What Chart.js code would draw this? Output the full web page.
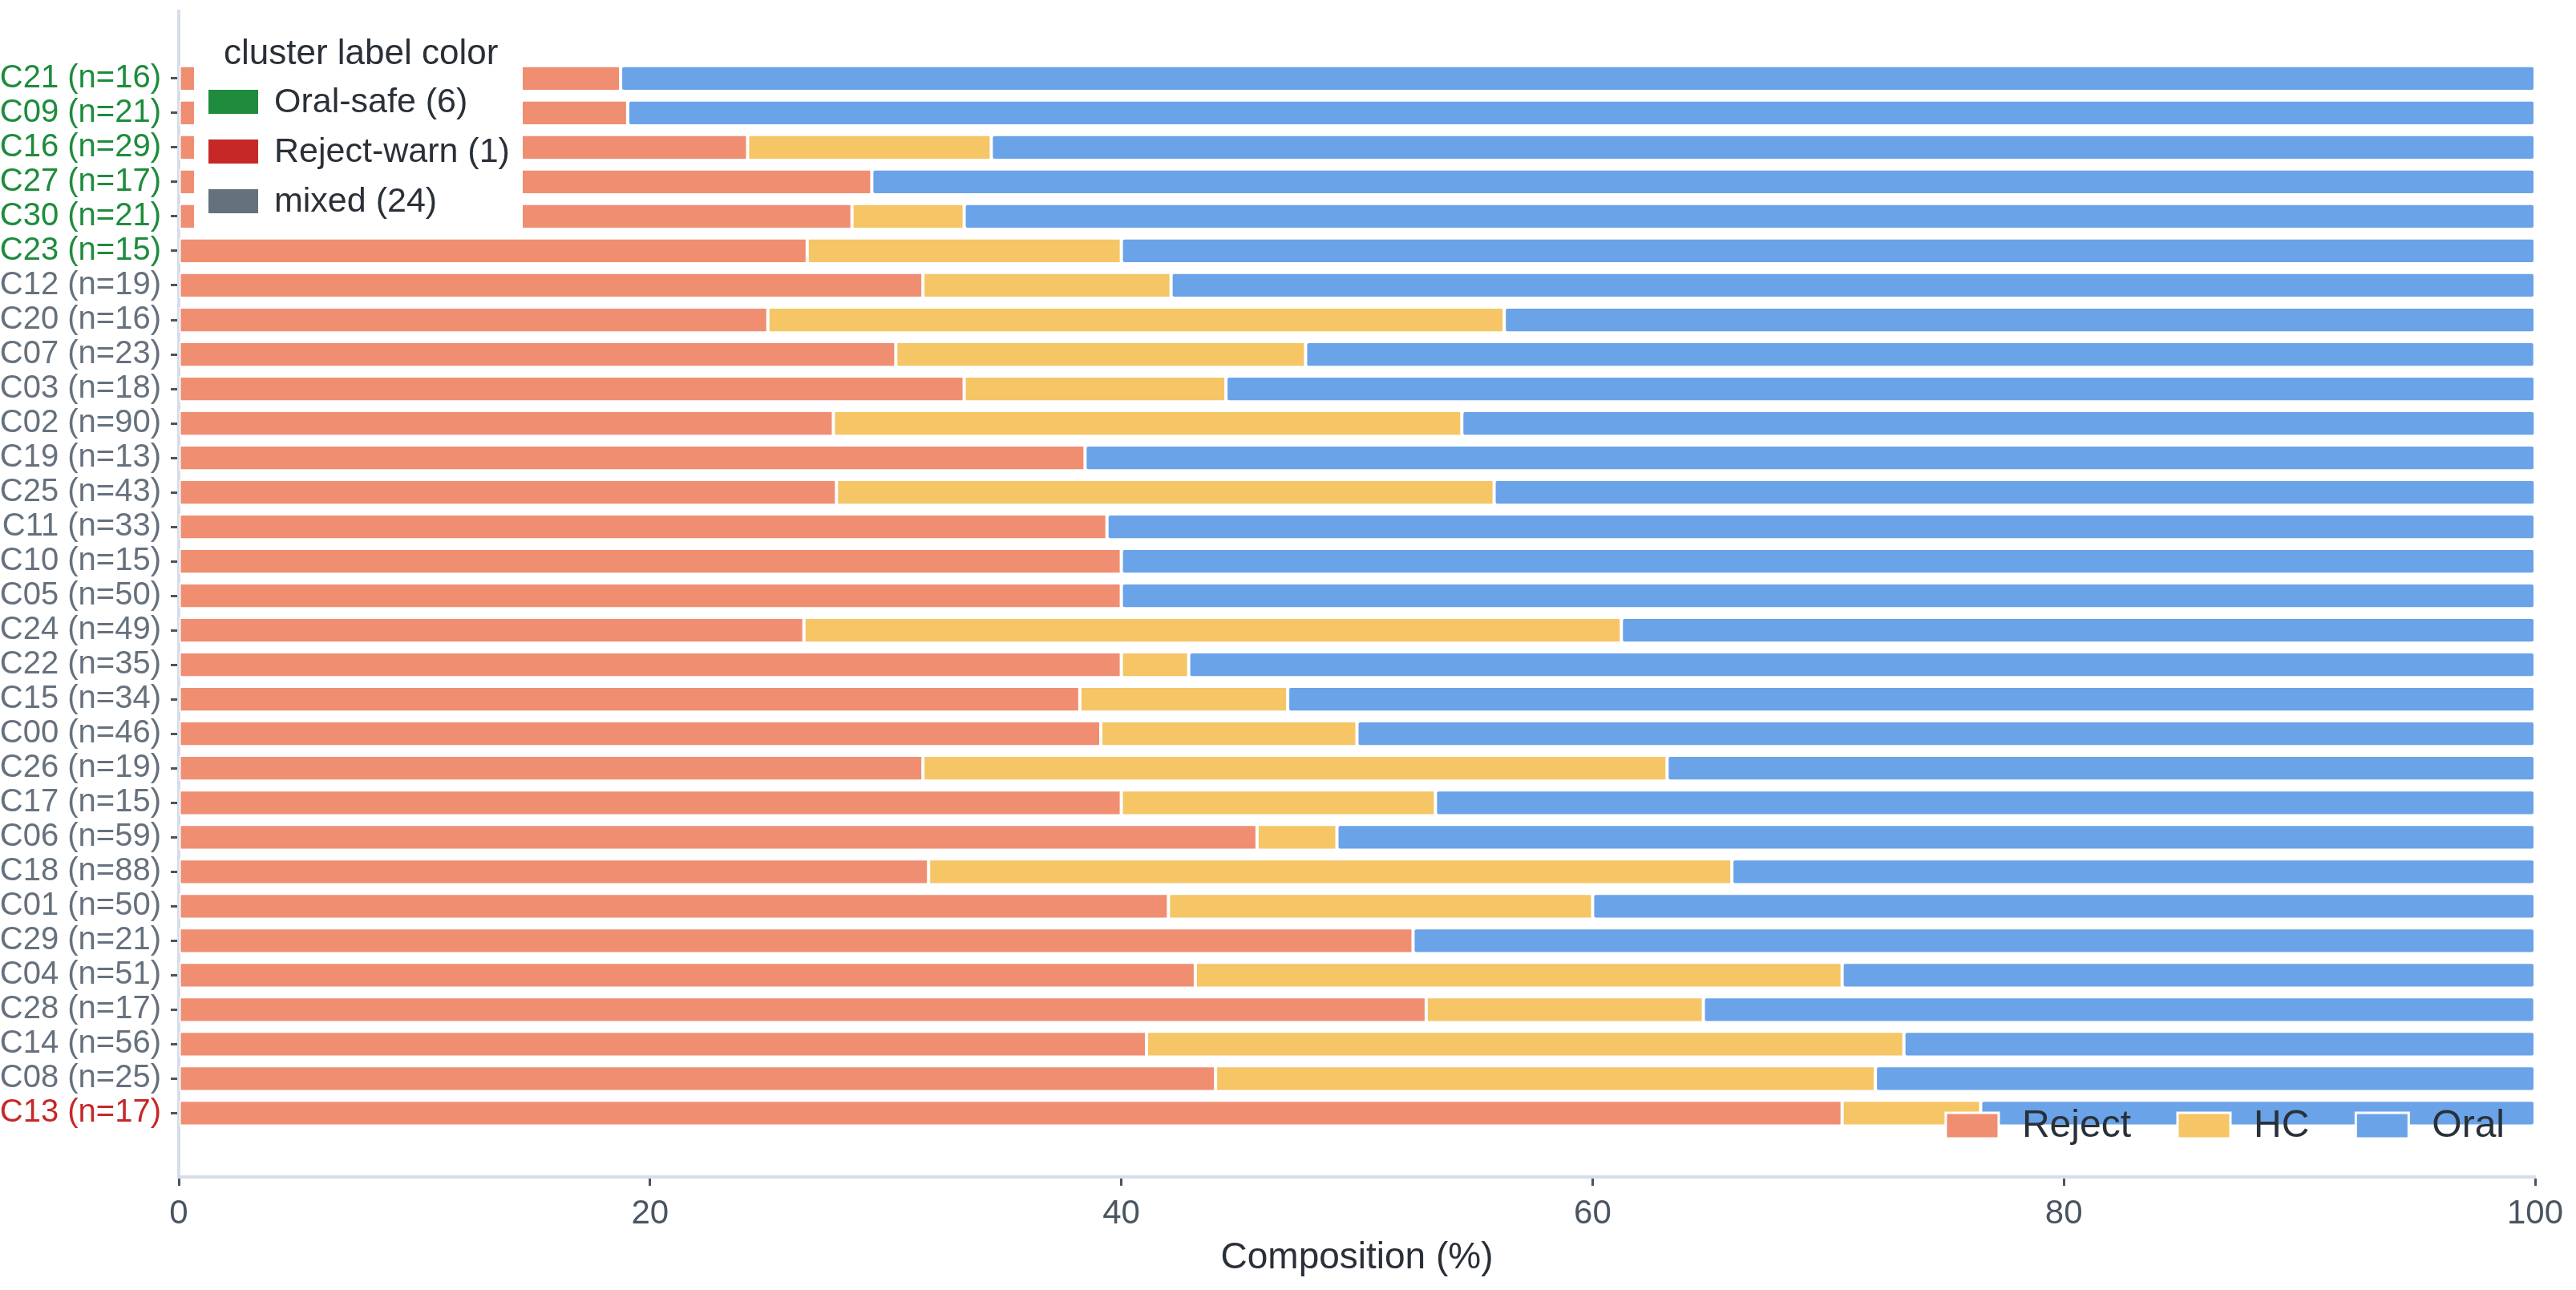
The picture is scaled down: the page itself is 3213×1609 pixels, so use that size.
<!DOCTYPE html>
<html>
<head>
<meta charset="utf-8">
<script src="https://cdn.jsdelivr.net/npm/chart.js@4.4.1/dist/chart.umd.min.js"></script>
<style>
  html, body { margin: 0; padding: 0; background: #fff; }
  canvas { display: block; }
</style>
</head>
<body>
<canvas id="comp" width="3213" height="1609"></canvas>
<script>
// clusters, top to bottom
const clusters = [
  'C21 (n=16)', 'C09 (n=21)', 'C16 (n=29)', 'C27 (n=17)', 'C30 (n=21)', 'C23 (n=15)',
  'C12 (n=19)', 'C20 (n=16)', 'C07 (n=23)', 'C03 (n=18)', 'C02 (n=90)', 'C19 (n=13)',
  'C25 (n=43)', 'C11 (n=33)', 'C10 (n=15)', 'C05 (n=50)', 'C24 (n=49)', 'C22 (n=35)',
  'C15 (n=34)', 'C00 (n=46)', 'C26 (n=19)', 'C17 (n=15)', 'C06 (n=59)', 'C18 (n=88)',
  'C01 (n=50)', 'C29 (n=21)', 'C04 (n=51)', 'C28 (n=17)', 'C14 (n=56)', 'C08 (n=25)',
  'C13 (n=17)'
];
const labelGroup = [
  'oral', 'oral', 'oral', 'oral', 'oral', 'oral',
  'mixed', 'mixed', 'mixed', 'mixed', 'mixed', 'mixed',
  'mixed', 'mixed', 'mixed', 'mixed', 'mixed', 'mixed',
  'mixed', 'mixed', 'mixed', 'mixed', 'mixed', 'mixed',
  'mixed', 'mixed', 'mixed', 'mixed', 'mixed', 'mixed',
  'warn'
];

// composition (%)
const reject = [18.75, 19.05, 24.14, 29.41, 28.57, 26.67, 31.58, 25.00, 30.43, 33.33, 27.78, 38.46,
  27.91, 39.39, 40.00, 40.00, 26.53, 40.00, 38.24, 39.13, 31.58, 40.00, 45.76, 31.82,
  42.00, 52.38, 43.14, 52.94, 41.07, 44.00, 70.59];
const hc = [0, 0, 10.34, 0, 4.76, 13.33, 10.53, 31.25, 17.39, 11.11, 26.67, 0,
  27.91, 0, 0, 0, 34.69, 2.86, 8.82, 10.87, 31.58, 13.33, 3.39, 34.09,
  18.00, 0, 27.45, 11.76, 32.14, 28.00, 5.88];
const oral = [81.25, 80.95, 65.52, 70.59, 66.67, 60.00, 57.89, 43.75, 52.17, 55.56, 45.56, 61.54,
  44.19, 60.61, 60.00, 60.00, 38.78, 57.14, 52.94, 50.00, 36.84, 46.67, 50.85, 34.09,
  40.00, 47.62, 29.41, 35.29, 26.79, 28.00, 23.53];

const seriesNames = ['Reject', 'HC', 'Oral'];
const seriesColors = ['#F08E72', '#F5C566', '#6AA3E8'];
const xTicks = [0, 20, 40, 60, 80, 100];

const groupKeys = ['oral', 'warn', 'mixed'];
const groupNames = ['Oral-safe (6)', 'Reject-warn (1)', 'mixed (24)'];
const groupColors = { oral: '#1E8C3C', warn: '#C62828', mixed: '#66717E' };

const FONT = "'Liberation Sans', Arial, sans-serif";

function toPoints(arr) {
  return arr.map((v, i) => ({ x: v, y: i }));
}

const series = [reject, hc, oral].map((arr, k) => ({
  label: seriesNames[k],
  data: toPoints(arr),
  backgroundColor: seriesColors[k],
  borderColor: 'rgba(255,255,255,0.85)',
  borderWidth: 2,
  borderRadius: 4,
  borderSkipped: false,
  categoryPercentage: 1,
  barPercentage: 0.75
}));

// legends drawn on top of the plot
const legendBoxes = {
  id: 'legendBoxes',
  afterDraw(chart) {
    const ctx = chart.ctx;
    const area = chart.chartArea;
    ctx.save();

    // cluster label color
    const lx = area.left + 19;
    ctx.fillStyle = '#fff';
    ctx.fillRect(lx, 24, 410, 268);
    ctx.textBaseline = 'middle';
    ctx.textAlign = 'left';
    ctx.fillStyle = '#2A3038';
    ctx.font = '44px ' + FONT;
    ctx.fillText('cluster label color', lx + 37, 68);
    ctx.font = '43px ' + FONT;
    groupKeys.forEach((g, i) => {
      const cy = 127 + i * 62;
      ctx.fillStyle = groupColors[g];
      ctx.fillRect(lx + 18, cy - 15, 62, 30);
      ctx.fillStyle = '#2A3038';
      ctx.fillText(groupNames[i], lx + 100, cy + 1);
    });

    // series legend, bottom right inside the plot
    ctx.font = '48px ' + FONT;
    const sw = 66, sh = 32, gapText = 29, gapItem = 58;
    let total = 0;
    const widths = chart.data.datasets.map(d => ctx.measureText(d.label).width);
    widths.forEach((w, i) => { total += sw + gapText + w + (i < widths.length - 1 ? gapItem : 0); });
    let x = area.right - 38 - total;
    const cy = 1404;
    chart.data.datasets.forEach((d, i) => {
      ctx.fillStyle = d.backgroundColor;
      ctx.fillRect(x, cy - sh / 2, sw, sh);
      ctx.strokeStyle = '#fff';
      ctx.lineWidth = 3;
      ctx.strokeRect(x, cy - sh / 2, sw, sh);
      ctx.fillStyle = '#2A3038';
      ctx.fillText(d.label, x + sw + gapText, cy + 1);
      x += sw + gapText + widths[i] + gapItem;
    });
    ctx.restore();
  }
};

new Chart(document.getElementById('comp'), {
  type: 'bar',
  data: { datasets: series },
  options: {
    indexAxis: 'y',
    responsive: false,
    animation: false,
    layout: { padding: { top: 14, right: 51, bottom: 0, left: 0 } },
    plugins: {
      legend: { display: false },
      tooltip: { enabled: false }
    },
    scales: {
      x: {
        type: 'linear',
        stacked: true,
        min: 0,
        max: 100,
        afterBuildTicks: (s) => { s.ticks = xTicks.map(v => ({ value: v })); },
        afterFit: (s) => { s.height = 141; },
        border: { display: true, color: '#D6DDEA', width: 4 },
        grid: { drawOnChartArea: false, drawTicks: true, tickLength: 11, tickColor: '#4A5562', tickWidth: 3 },
        ticks: { color: '#4A5562', font: { family: FONT, size: 42 }, padding: 10 },
        title: {
          display: true,
          text: 'Composition (%)',
          color: '#2A3038',
          font: { family: FONT, size: 46 },
          padding: { top: 0, bottom: 12 }
        }
      },
      y: {
        type: 'linear',
        stacked: true,
        reverse: true,
        offset: false,
        min: -1.95,
        max: clusters.length - 1 + 1.85,
        afterBuildTicks: (s) => { s.ticks = clusters.map((_, i) => ({ value: i })); },
        afterFit: (s) => { s.width = 223; s.paddingTop = 0; s.paddingBottom = 0; },
        border: { display: true, color: '#D6DDEA', width: 4 },
        grid: { offset: false, drawOnChartArea: false, drawTicks: true, tickLength: 10, tickColor: '#4A5562', tickWidth: 3 },
        ticks: {
          autoSkip: false,
          padding: 12,
          font: { family: FONT, size: 40 },
          callback: (v) => clusters[v],
          color: (c) => groupColors[labelGroup[c.tick.value]]
        }
      }
    }
  },
  plugins: [legendBoxes]
});
</script>
</body>
</html>
